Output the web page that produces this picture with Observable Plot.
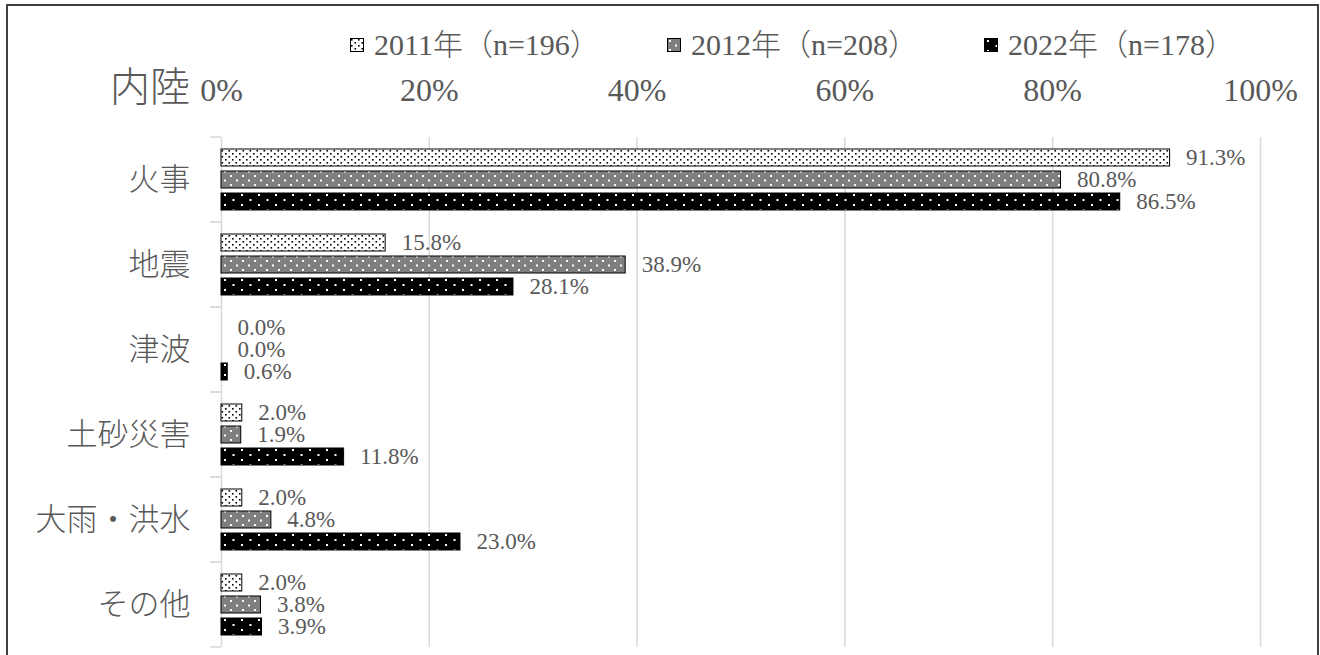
<!DOCTYPE html>
<html><head><meta charset="utf-8">
<script src="https://cdn.jsdelivr.net/npm/d3@7"></script>
<script src="https://cdn.jsdelivr.net/npm/@observablehq/plot@0.6"></script>
<style>
body{margin:0;background:#fff;overflow:hidden}
#wrap{position:relative;width:1320px;height:655px;font-family:"Liberation Serif","Noto Sans CJK JP",serif;color:#595959}
#frame{position:absolute;left:6px;top:4px;width:1309px;height:700px;border:2px solid #404040;border-bottom:none;pointer-events:none}
#legend{position:absolute;left:350px;top:28px;display:flex;font-size:30px;line-height:34px;font-weight:300}
.item{width:317px;display:flex;align-items:center;white-space:nowrap}
.sw{margin-right:10px;display:block}
#region{position:absolute;left:60px;width:130px;text-align:right;top:67px;font-size:40px;line-height:42px;font-weight:300}
#chart{position:absolute;left:0;top:0}
</style></head>
<body>
<svg width="0" height="0" style="position:absolute">
<defs>
<pattern id="p2011" width="7" height="6" patternUnits="userSpaceOnUse">
<rect width="7" height="6" fill="#fff"/>
<rect x="1" y="1" width="1.6" height="1.6" fill="#000"/>
<rect x="4.5" y="4" width="1.6" height="1.6" fill="#000"/>
</pattern>
<pattern id="p2012" width="12" height="9" patternUnits="userSpaceOnUse">
<rect width="12" height="9" fill="#7f7f7f"/>
<rect x="2" y="2" width="2" height="2" fill="#fff"/>
<rect x="8" y="6.5" width="2" height="2" fill="#fff"/>
</pattern>
<pattern id="p2022" width="17" height="10" patternUnits="userSpaceOnUse">
<rect width="17" height="10" fill="#000"/>
<rect x="3" y="2" width="2" height="2" fill="#fff"/>
<rect x="11.5" y="7" width="2" height="2" fill="#fff"/>
</pattern>
</defs>
</svg>
<div id="wrap">
<div id="chart"></div>
<div id="region"></div>
<div id="legend"></div>
<div id="frame"></div>
</div>
<script>
const categories = ["火事", "地震", "津波", "土砂災害", "大雨・洪水", "その他"];
const seriesNames = ["2011年（n=196）", "2012年（n=208）", "2022年（n=178）"];
const v2011 = [91.3, 15.8, 0.0, 2.0, 2.0, 2.0];
const v2012 = [80.8, 38.9, 0.0, 1.9, 4.8, 3.8];
const v2022 = [86.5, 28.1, 0.6, 11.8, 23.0, 3.9];
const xTicks = [0, 20, 40, 60, 80, 100];
const regionLabel = "内陸";
const patternIds = ["p2011", "p2012", "p2022"];

const seriesValues = [v2011, v2012, v2022];
const rows = categories.flatMap((c, i) =>
  seriesNames.map((s, j) => ({category: c, series: s, value: seriesValues[j][i]})));

function boundaryTicks(index, scales) {
  const y = scales.y, x = scales.x;
  const [y0, y1] = y.range();
  const x0 = x(0);
  const g = d3.create("svg:g");
  for (const yy of [y0, y1]) {
    g.append("line").attr("x1", x0 - 11).attr("x2", x0).attr("y1", yy).attr("y2", yy)
      .attr("stroke", "#d9d9d9").attr("stroke-width", 1.5);
  }
  return g.node();
}

const chart = Plot.plot({
  width: 1320, height: 655,
  marginTop: 135, marginBottom: 7, marginLeft: 221, marginRight: 60,
  style: {fontFamily: '"Liberation Serif","Noto Sans CJK JP",serif', color: "#595959", background: "transparent", overflow: "visible"},
  x: {domain: [0, 100]},
  y: {domain: seriesNames, paddingInner: 0.23, paddingOuter: 0.5, axis: null},
  fy: {domain: categories, padding: 0, label: null},
  color: {type: "ordinal", domain: seriesNames, range: patternIds.map(id => `url(#${id})`)},
  marks: [
    Plot.ruleX(xTicks, {stroke: "#d9d9d9", strokeWidth: 1.5}),
    boundaryTicks,
    Plot.barX(rows, {x: "value", y: "series", fy: "category", fill: "series", stroke: "#000", strokeWidth: 1}),
    Plot.text(rows, {x: "value", y: "series", fy: "category", text: d => d.value.toFixed(1) + "%", dx: 16, textAnchor: "start", fontSize: 23, fill: "#595959"}),
    Plot.axisX({anchor: "top", ticks: xTicks, tickFormat: d => d + "%", tickSize: 0, tickPadding: 37, fontSize: 32, label: null}),
    Plot.axisFy({anchor: "left", tickSize: 0, tickPadding: 31, fontSize: 31, fontWeight: 300, label: null})
  ]
});
document.getElementById("chart").appendChild(chart);
document.getElementById("region").textContent = regionLabel;

const legend = d3.select("#legend");
seriesNames.forEach((s, j) => {
  const item = legend.append("div").attr("class", "item");
  const sw = item.append("svg").attr("class", "sw").attr("width", 14).attr("height", 14);
  sw.append("rect").attr("x", 0.5).attr("y", 0.5).attr("width", 13).attr("height", 13)
    .attr("fill", `url(#${patternIds[j]})`).attr("stroke", "#000").attr("stroke-width", 1);
  item.append("span").text(s);
});
</script>
</body></html>
